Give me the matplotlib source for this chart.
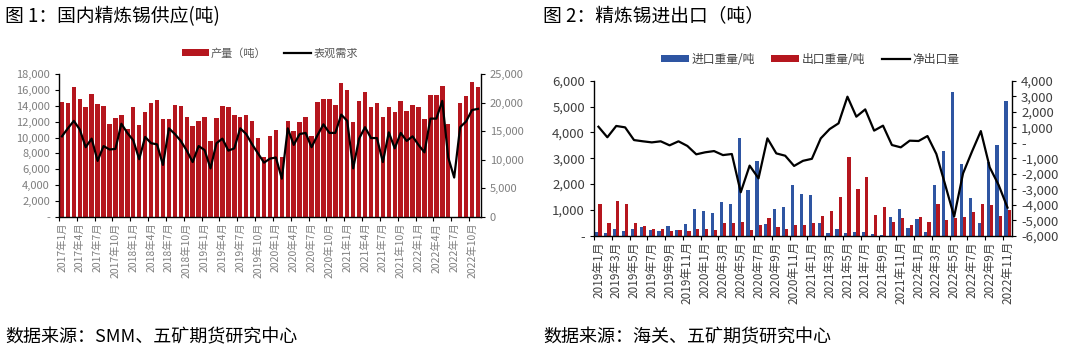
import numpy as np
import matplotlib.pyplot as plt
from matplotlib.patches import Patch
from matplotlib.lines import Line2D
from matplotlib.ticker import FuncFormatter, FixedLocator

plt.rcParams['font.family'] = ['Noto Sans CJK SC', 'DejaVu Sans']

# ---- chart 1 data: 2017-01 .. 2022-11 ----
months1 = [f'{y}年{m}月' for y in range(2017, 2023) for m in range(1, 13)][:71]
output1 = [14500, 14300, 16300, 14900, 13800, 15500, 14200, 14000, 11700, 12500, 12800, 11100,
           13800, 11600, 13200, 14300, 14700, 12300, 12300, 14100, 14000, 12600, 11400, 12100,
           12600, 9600, 12400, 14000, 13800, 12900, 12600, 12900, 12100, 10000, 7600, 10200,
           10900, 7600, 12100, 10800, 11900, 12600, 10200, 14500, 14800, 14900, 14100, 16900,
           16000, 12000, 14600, 15700, 13900, 14300, 12600, 13800, 13200, 14600, 13400, 14100,
           13800, 12300, 15400, 15300, 16500, 11700, np.nan, 14400, 15200, 17000, 16400]
demand1 = [14100, 15500, 16800, 15300, 12200, 13700, 9800, 12400, 11800, 11900, 16300, 14700,
           13400, 10100, 14000, 12900, 12700, 9100, 15500, 14500, 13300, 11600, 9600, 12400,
           11700, 8500, 12900, 13700, 11600, 12000, 15500, 14500, 12700, 11100, 9500, 10200,
           10400, 6700, 15500, 12600, 14500, 14700, 12200, 14300, 16200, 14700, 14700, 17900,
           16800, 8500, 13700, 15700, 13800, 13800, 9600, 14800, 12000, 14700, 13300, 14100,
           12600, 11300, 17200, 17200, 20300, 10400, 6900, 15700, 16700, 18700, 18900]

# ---- chart 2 data: 2019-01 .. 2022-11 ----
months2 = [f'{y}年{m}月' for y in range(2019, 2023) for m in range(1, 13)][:47]
imports2 = [130, 90, 260, 180, 260, 350, 220, 180, 370, 230,
            440, 1045, 970, 860, 1300, 1240, 3770, 1780, 2890, 450,
            1020, 1100, 1950, 1600, 1560, 480, 115, 260, 115, 155,
            155, 65, 40, 735, 1030, 310, 630, 155, 1960, 3290,
            5550, 2770, 1445, 500, 2860, 3510, 5210]
exports2 = [1225, 500, 1340, 1210, 500, 390, 245, 245, 180, 230,
            170, 245, 270, 230, 480, 480, 530, 220, 400, 700,
            350, 245, 410, 410, 500, 760, 970, 1480, 3060, 1800,
            2280, 800, 1120, 540, 700, 410, 735, 540, 1225, 590,
            700, 735, 900, 1225, 1190, 775, 990]
net2 = [1030, 350, 1080, 990, 170, 90, 20, 90, -170, 90,
        -210, -750, -620, -540, -800, -730, -3200, -1480, -2300, 280,
        -690, -840, -1500, -1170, -1040, 280, 880, 1250, 2970, 1680,
        2150, 780, 1100, -150, -300, 130, 110, 430, -730, -2730,
        -4770, -1980, -580, 750, -1590, -2730, -4190]

RED = '#B5161E'
BLUE = '#2E55A2'


def fmt_dash(v, pos):
    if abs(v) < 1e-6:
        return '-'
    return f'{v:,.0f}'


def fmt_zero(v, pos):
    return f'{v:,.0f}'


def style_axes(ax, ax2, color):
    for s in ['top', 'right']:
        ax.spines[s].set_visible(False)
    for s in ['top', 'left', 'bottom']:
        ax2.spines[s].set_visible(False)
    for a in (ax, ax2):
        for s in a.spines.values():
            s.set_color('black')
            s.set_linewidth(1.0)
    ax.tick_params(axis='y', colors='black', labelcolor=color, length=3, width=0.8)
    ax2.tick_params(axis='y', colors='black', labelcolor=color, length=3, width=0.8)


fig = plt.figure(figsize=(10.8, 3.62), dpi=100)

# ================= chart 1 =================
ax = fig.add_axes([0.0546, 0.4006, 0.3907, 0.3950])
x1 = np.arange(len(months1))
ax.bar(x1, output1, width=0.75, color=RED, zorder=2)
ax.set_xlim(-0.5, len(months1) - 0.5)
ax.set_ylim(0, 18000)
ax.set_yticks(np.arange(0, 18001, 2000))
ax.yaxis.set_major_formatter(FuncFormatter(fmt_dash))
ax2 = ax.twinx()
ax2.plot(x1, demand1, color='black', lw=1.6)
ax2.set_ylim(0, 25000)
ax2.set_yticks(np.arange(0, 25001, 5000))
ax2.yaxis.set_major_formatter(FuncFormatter(fmt_zero))
style_axes(ax, ax2, '#7F7F7F')
for a in (ax, ax2):
    a.tick_params(axis='y', labelsize=8)
ax.set_xticks(x1[::3])
ax.set_xticklabels(months1[::3], rotation=90, fontsize=7.5, color='#7F7F7F')
ax.tick_params(axis='x', which='major', length=0, pad=4)
ax.xaxis.set_minor_locator(FixedLocator(np.arange(-0.5, len(months1), 3)))
ax.tick_params(axis='x', which='minor', length=3, width=0.8, color='black')

fig.text(0.005, 0.955, '图 1：国内精炼锡供应(吨)', fontsize=13.5, va='center', ha='left')
fig.text(0.005, 0.068, '数据来源：SMM、五矿期货研究中心', fontsize=13, va='center', ha='left')
h1 = [Patch(facecolor=RED), Line2D([0], [0], color='black', lw=1.6)]
fig.legend(h1, ['产量（吨）', '表观需求'], loc='center', bbox_to_anchor=(0.250, 0.853),
           ncol=2, frameon=False, fontsize=8, handlelength=2.4, handleheight=0.5,
           columnspacing=1.6, handletextpad=0.2, labelcolor='#595959')

# ================= chart 2 =================
bx = fig.add_axes([0.55, 0.349, 0.387, 0.428])
x2 = np.arange(len(months2))
w = 0.36
bx.bar(x2 - w / 2, imports2, width=w, color=BLUE, zorder=2)
bx.bar(x2 + w / 2, exports2, width=w, color=RED, zorder=2)
bx.set_xlim(-0.5, len(months2) - 0.5)
bx.set_ylim(0, 6000)
bx.set_yticks(np.arange(0, 6001, 1000))
bx.yaxis.set_major_formatter(FuncFormatter(fmt_dash))
bx2 = bx.twinx()
bx2.plot(x2, net2, color='black', lw=1.6)
bx2.set_ylim(-6000, 4000)
bx2.set_yticks(np.arange(-6000, 4001, 1000))
bx2.yaxis.set_major_formatter(FuncFormatter(fmt_dash))
style_axes(bx, bx2, '#404040')
for a in (bx, bx2):
    a.tick_params(axis='y', labelsize=9.5)
bx.set_xticks(x2[::2])
bx.set_xticklabels(months2[::2], rotation=90, fontsize=8.5, color='#404040')
bx.tick_params(axis='x', which='major', length=0, pad=4)
bx.xaxis.set_minor_locator(FixedLocator(np.arange(-0.5, len(months2), 2)))
bx.tick_params(axis='x', which='minor', length=3, width=0.8, color='black')

fig.text(0.503, 0.955, '图 2：精炼锡进出口（吨）', fontsize=13.5, va='center', ha='left')
fig.text(0.503, 0.068, '数据来源：海关、五矿期货研究中心', fontsize=13, va='center', ha='left')
h2 = [Patch(facecolor=BLUE), Patch(facecolor=RED), Line2D([0], [0], color='black', lw=1.6)]
fig.legend(h2, ['进口重量/吨', '出口重量/吨', '净出口量'], loc='center',
           bbox_to_anchor=(0.750, 0.836), ncol=3, frameon=False, fontsize=8.5,
           handlelength=2.4, handleheight=0.5, columnspacing=1.4, handletextpad=0.2,
           labelcolor='#404040')

fig.savefig('out.png', dpi=100)
